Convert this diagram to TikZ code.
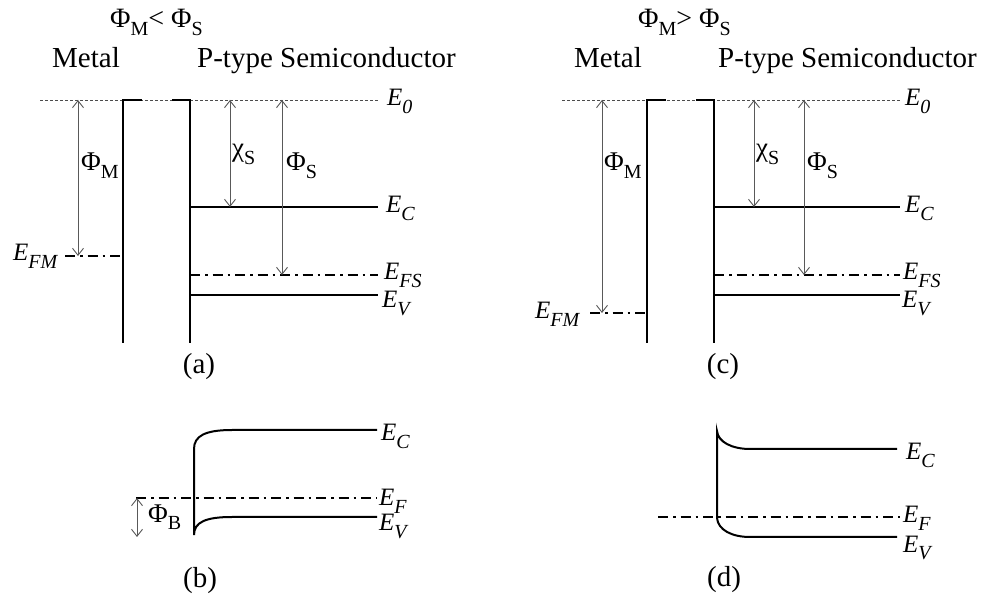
\documentclass[tikz,border=0pt]{standalone}
\usepackage{fontspec}
\setmainfont{Liberation Serif}
\usetikzlibrary{arrows.meta}
\newcommand{\sbs}[1]{\raisebox{-0.28em}{\fontsize{20}{20}\selectfont #1}}
\newcommand{\isbs}[1]{\raisebox{-0.3em}{\fontsize{20}{20}\selectfont\itshape #1}}
\tikzset{
  txt/.style={font=\fontsize{29}{32}\selectfont, inner sep=0pt, anchor=base west},
  ttl/.style={font=\fontsize{28}{30}\selectfont, inner sep=0pt, anchor=base west},
  elab/.style={font=\fontsize{25}{28}\selectfont\itshape, inner sep=0pt, anchor=base west},
  glab/.style={font=\fontsize{27}{30}\selectfont, inner sep=0pt, anchor=base west},
  plabel/.style={font=\fontsize{29}{32}\selectfont, inner sep=0pt, anchor=base},
  wall/.style={line width=2pt},
  band/.style={line width=2pt},
  vac/.style={line width=0.8pt, black!70, dash pattern=on 3pt off 2pt},
  fermi/.style={line width=2pt, dash pattern=on 10pt off 5pt on 2.5pt off 5pt},
  dim/.style={line width=0.9pt, black!65, {Straight Barb[length=7pt,width=11pt]}-{Straight Barb[length=7pt,width=11pt]}}
}
\begin{document}
\begin{tikzpicture}[x=1pt,y=-1pt]
\useasboundingbox (0,0) rectangle (986,601);

% ================= panel (a) =================
\node[ttl] (ta) at (110,28) {Φ\sbs{M}< Φ\sbs{S}};
\node[txt] (ma) at (52,68) {Metal};
\node[txt] (sa) at (197,68) {P-type Semiconductor};
\coordinate (a0L) at (40,100); \coordinate (a0R) at (378,100);
\draw[vac] (a0L) -- (a0R);
\node[elab] (aE0) at (387,106) {E\isbs{0}};
\draw[wall] (142,100) -- (123,100) -- (123,343);
\draw[wall] (172,100) -- (190,100) -- (190,343);
% levels
\coordinate (aFML) at (65,256); \coordinate (aFMR) at (123,256);
\draw[fermi] (aFML) -- (aFMR);
\node[elab] (aEFM) at (13,261) {E\isbs{FM}};
\coordinate (aCL) at (190,207); \coordinate (aCR) at (378,207);
\draw[band] (aCL) -- (aCR);
\node[elab] (aEC) at (386,213) {E\isbs{C}};
\coordinate (aFL) at (190,275); \coordinate (aFR) at (378,275);
\draw[fermi] (aFL) -- (aFR);
\node[elab] (aEFS) at (384,280) {E\isbs{FS}};
\coordinate (aVL) at (190,295); \coordinate (aVR) at (378,295);
\draw[band] (aVL) -- (aVR);
\node[elab] (aEV) at (382,308) {E\isbs{V}};
% dimension arrows
\coordinate (aPMt) at (78,100); \coordinate (aPMb) at (78,256);
\draw[dim] (aPMt) -- (aPMb);
\node[glab] (aPM) at (81,171) {Φ\sbs{M}};
\coordinate (aXt) at (230,100); \coordinate (aXb) at (230,207);
\draw[dim] (aXt) -- (aXb);
\node[glab] (aX) at (232,157) {χ\sbs{S}};
\coordinate (aPSt) at (282,100); \coordinate (aPSb) at (282,275);
\draw[dim] (aPSt) -- (aPSb);
\node[glab] (aPS) at (286,171) {Φ\sbs{S}};
\node[plabel] (capa) at (199,374) {(a)};

% ================= panel (c) =================
\node[ttl] (tc) at (638,28) {Φ\sbs{M}> Φ\sbs{S}};
\node[txt] (mc) at (574,68) {Metal};
\node[txt] (sc) at (718,68) {P-type Semiconductor};
\coordinate (c0L) at (562,100); \coordinate (c0R) at (900,100);
\draw[vac] (c0L) -- (c0R);
\node[elab] (cE0) at (905,106) {E\isbs{0}};
\draw[wall] (666,100) -- (647,100) -- (647,343);
\draw[wall] (696,100) -- (714,100) -- (714,343);
\coordinate (cFML) at (590,313); \coordinate (cFMR) at (647,313);
\draw[fermi] (cFML) -- (cFMR);
\node[elab] (cEFM) at (535,319) {E\isbs{FM}};
\coordinate (cCL) at (714,207); \coordinate (cCR) at (900,207);
\draw[band] (cCL) -- (cCR);
\node[elab] (cEC) at (905,213) {E\isbs{C}};
\coordinate (cFL) at (714,275); \coordinate (cFR) at (900,275);
\draw[fermi] (cFL) -- (cFR);
\node[elab] (cEFS) at (903,280) {E\isbs{FS}};
\coordinate (cVL) at (714,295); \coordinate (cVR) at (900,295);
\draw[band] (cVL) -- (cVR);
\node[elab] (cEV) at (902,308) {E\isbs{V}};
\coordinate (cPMt) at (602,100); \coordinate (cPMb) at (602,313);
\draw[dim] (cPMt) -- (cPMb);
\node[glab] (cPM) at (604,171) {Φ\sbs{M}};
\coordinate (cXt) at (754,100); \coordinate (cXb) at (754,207);
\draw[dim] (cXt) -- (cXb);
\node[glab] (cX) at (756,157) {χ\sbs{S}};
\coordinate (cPSt) at (804,100); \coordinate (cPSb) at (804,275);
\draw[dim] (cPSt) -- (cPSb);
\node[glab] (cPS) at (807,171) {Φ\sbs{S}};
\node[plabel] (capc) at (723,374) {(c)};

% ================= panel (b) =================
\draw[band] (377,430) -- (232,430) .. controls (205,430) and (194,436) .. (194,449)
  -- (194,535) .. controls (194,522) and (206,517) .. (232,517) -- (377,517);
\coordinate (bFL) at (136,498); \coordinate (bFR) at (377,498);
\draw[fermi] (bFL) -- (bFR);
\node[elab] (bEC) at (381,441) {E\isbs{C}};
\node[elab] (bEF) at (379,506) {E\isbs{F}};
\node[elab] (bEV) at (379,531) {E\isbs{V}};
\coordinate (bBt) at (137,498); \coordinate (bBb) at (137,537);
\draw[dim] (bBt) -- (bBb);
\node[glab] (bPB) at (148,522) {Φ\sbs{B}};
\node[plabel] (capb) at (200,587) {(b)};

% ================= panel (d) =================
\draw[band] (897,449) -- (750,449) .. controls (732,449) and (718,442) .. (717,431)
  -- (717,518) .. controls (718,530) and (732,537) .. (750,537) -- (897,537);
\coordinate (dFL) at (658,517); \coordinate (dFR) at (900,517);
\draw[fermi] (dFL) -- (dFR);
\node[elab] (dEC) at (906,460) {E\isbs{C}};
\node[elab] (dEF) at (903,523) {E\isbs{F}};
\node[elab] (dEV) at (903,552) {E\isbs{V}};
\node[plabel] (capd) at (724,586) {(d)};
\end{tikzpicture}
\end{document}
